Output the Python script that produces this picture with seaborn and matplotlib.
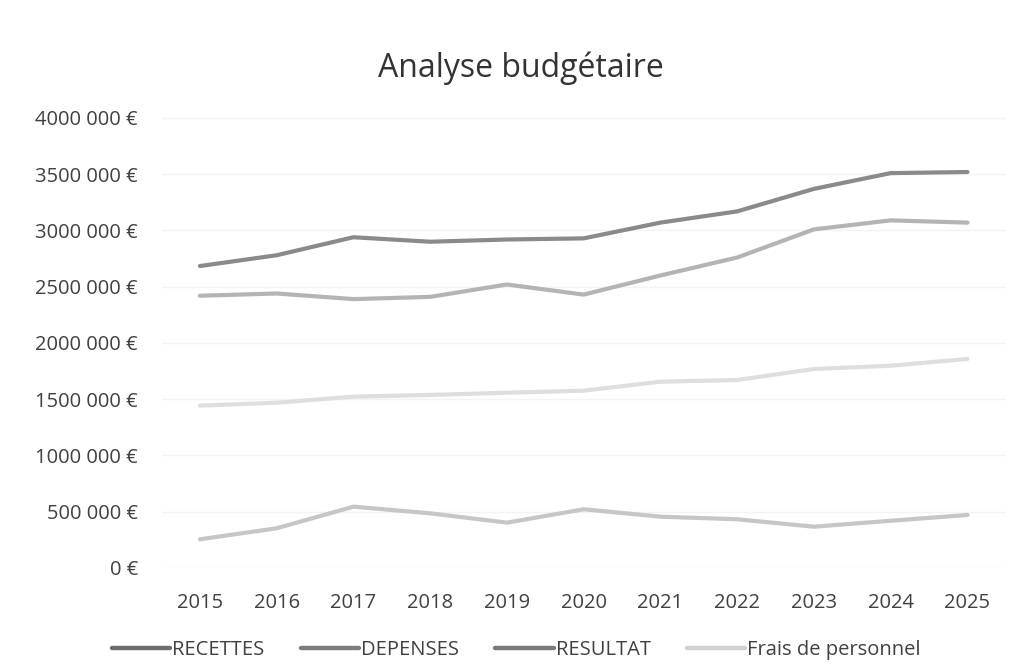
import numpy as np
import pandas as pd
import matplotlib.pyplot as plt
import seaborn as sns

# data
years = [2015, 2016, 2017, 2018, 2019, 2020, 2021, 2022, 2023, 2024, 2025]
recettes = [2684000, 2780000, 2940000, 2900000, 2920000, 2930000, 3070000, 3170000, 3370000, 3510000, 3520000]
depenses = [2420000, 2440000, 2390000, 2410000, 2520000, 2430000, 2600000, 2760000, 3010000, 3090000, 3070000]
resultat = [255000, 353000, 545000, 486000, 403000, 522000, 456000, 433000, 367000, 420000, 471000]
frais = [1443000, 1469000, 1523000, 1538000, 1558000, 1576000, 1656000, 1671000, 1769000, 1798000, 1858000]

series = ['RECETTES', 'DEPENSES', 'RESULTAT', 'Frais de personnel']
colors = ['#8a8a8a', '#b4b4b4', '#c6c6c6', '#dedede']
legend_colors = ['#6e6e6e', '#7c7c7c', '#7a7a7a', '#d0d0d0']
yticks = [0, 500000, 1000000, 1500000, 2000000, 2500000, 3000000, 3500000, 4000000]
ylabels = ['0 €', '500 000 €', '1000 000 €', '1500 000 €', '2000 000 €',
           '2500 000 €', '3000 000 €', '3500 000 €', '4000 000 €']

df = pd.DataFrame({'annee': years * 4,
                   'serie': np.repeat(series, len(years)),
                   'valeur': recettes + depenses + resultat + frais})

sns.set_style('white')
plt.rcParams['font.family'] = ['Open Sans', 'DejaVu Sans']

fig = plt.figure(figsize=(10.16, 6.64), dpi=100)
ax = fig.add_axes([0.159, 0.1446, 0.831, 0.6777])

sns.lineplot(data=df, x='annee', y='valeur', hue='serie', palette=dict(zip(series, colors)),
             linewidth=3, ax=ax, legend=False)

ax.set_xlim(years[0] - 0.5, years[-1] + 0.5)
ax.set_ylim(0, 4000000)
ax.set_yticks(yticks)
ax.set_yticklabels(ylabels)
ax.set_xticks(years)
ax.set_xticklabels([str(y) for y in years])
ax.tick_params(axis='y', length=0, pad=17, labelsize=14.5, labelcolor='#404040')
ax.tick_params(axis='x', length=0, pad=18, labelsize=14.5, labelcolor='#404040')
ax.grid(axis='y', color='#f3f3f3', lw=1)
ax.set_axisbelow(True)
for s in ax.spines.values():
    s.set_visible(False)
ax.set_xlabel('')
ax.set_ylabel('')

fig.text(0.513, 0.897, 'Analyse budgétaire', ha='center', va='center', fontsize=23, color='#333333')

handles = [plt.Line2D([], [], color=c, lw=3.2) for c in legend_colors]
fig.legend(handles, series, loc='center left', bbox_to_anchor=(0.092, 0.021), ncol=4, frameon=False,
           handlelength=2.9, handletextpad=0.1, columnspacing=1.8, fontsize=14.5, labelcolor='#404040')

fig.savefig('out.png', dpi=100)
